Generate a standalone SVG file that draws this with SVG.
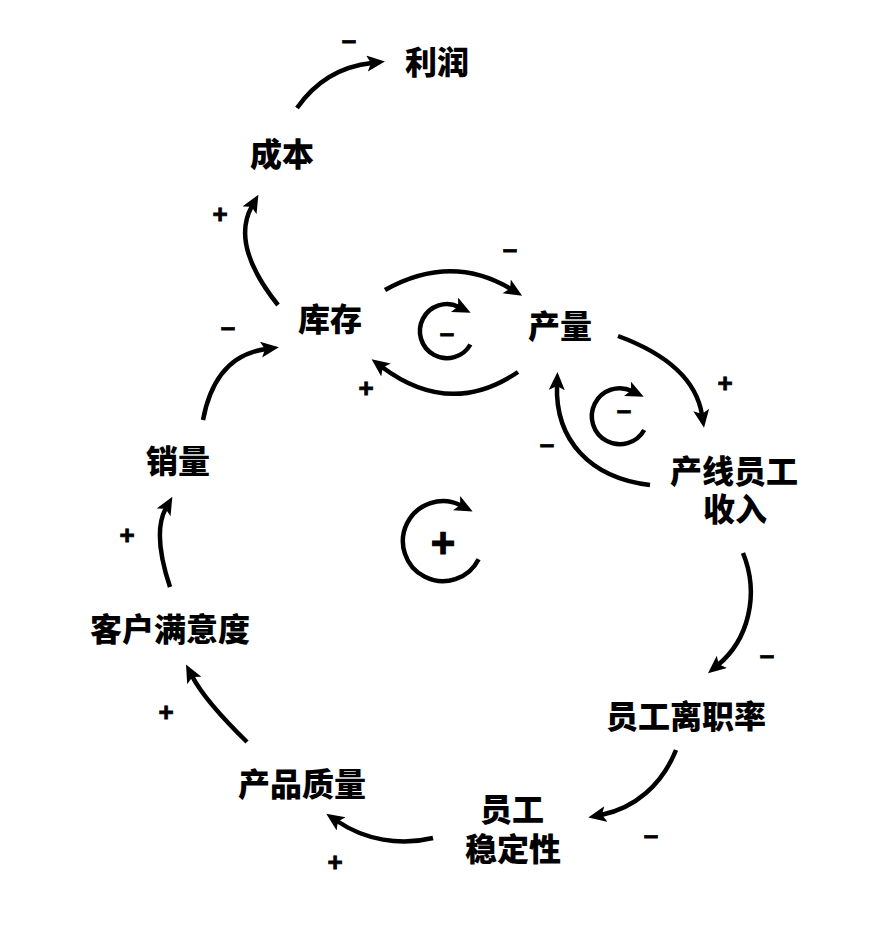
<svg xmlns="http://www.w3.org/2000/svg" width="870" height="942" viewBox="0 0 870 942">
<style>
.n{font-family:"Noto Sans CJK SC","Noto Sans CJK TC",sans-serif;font-size:32px;font-weight:900;fill:#000;text-anchor:middle}
.s{font-family:"Liberation Sans",Arial,sans-serif;font-size:26px;font-weight:700;fill:#000;text-anchor:middle;stroke:#000;stroke-width:0.8}
.c{fill:none;stroke:#000;stroke-width:4.5;marker-end:url(#ah)}
</style>
<defs>
<marker id="ah" markerUnits="userSpaceOnUse" markerWidth="20" markerHeight="18" refX="5" refY="8" orient="auto">
<path d="M0,0 L18,8 L0,16 L4,8 z" fill="#000"/>
</marker>
</defs>
<rect width="870" height="942" fill="#fff"/>
<g id="connectors">
<path class="c" d="M297,108 Q325,68 372,63"/>
<path class="c" d="M278,305 Q230,245 252,206"/>
<path class="c" d="M203,420 Q215,356 266,349"/>
<path class="c" d="M385,290 Q451,253 511,289"/>
<path class="c" d="M518,372 Q450,418 382,367"/>
<path class="c" d="M618,336 Q694,364 702,415"/>
<path class="c" d="M650,485 C590,478 555,440 557,385"/>
<path class="c" d="M743,553 C760,595 748,640 718,665"/>
<path class="c" d="M676,750 C662,785 635,808 601,815"/>
<path class="c" d="M433,838 C400,846 365,840 337,821"/>
<path class="c" d="M247,742 Q205,701 192,676"/>
<path class="c" d="M170,587 Q152,533 166,508"/>
<path class="c" d="M470.4,344.5 A27,27 0 1 1 459,307"/>
<path class="c" d="M644.2,430 A28,28 0 1 1 632,391"/>
<path class="c" d="M478.6,559.2 A40,40 0 1 1 461,505.5"/>
</g>
<g id="signs">
<text class="s" x="349" y="49">–</text>
<text class="s" x="220" y="223">+</text>
<text class="s" x="228" y="336">–</text>
<text class="s" x="510" y="258">–</text>
<text class="s" x="366" y="397">+</text>
<text class="s" x="447" y="342">–</text>
<text class="s" x="725" y="392">+</text>
<text class="s" x="547" y="453">–</text>
<text class="s" x="624" y="419">–</text>
<text class="s" x="767" y="664">–</text>
<text class="s" x="651" y="844">–</text>
<text class="s" x="335" y="871">+</text>
<text class="s" x="166" y="721">+</text>
<text class="s" x="127" y="544">+</text>
<text class="s" x="443" y="557" style="font-size:42px;stroke-width:1">+</text>
</g>
<g id="n-profit"><text class="n" x="437" y="74">利润</text></g>
<g id="n-cost"><text class="n" x="282" y="166">成本</text></g>
<g id="n-inventory"><text class="n" x="330" y="331">库存</text></g>
<g id="n-output"><text class="n" x="560" y="338">产量</text></g>
<g id="n-income"><text class="n" x="734" y="483">产线员工<tspan x="735" y="521">收入</tspan></text></g>
<g id="n-turnover"><text class="n" x="686" y="728">员工离职率</text></g>
<g id="n-stability"><text class="n" x="512" y="821">员工<tspan x="513" y="861">稳定性</tspan></text></g>
<g id="n-quality"><text class="n" x="302" y="796">产品质量</text></g>
<g id="n-satisfaction"><text class="n" x="170" y="641">客户满意度</text></g>
<g id="n-sales"><text class="n" x="178" y="473">销量</text></g>
</svg>
